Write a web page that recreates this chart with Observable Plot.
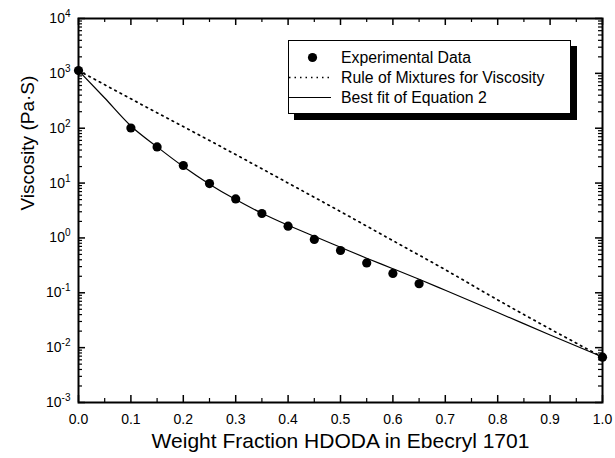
<!DOCTYPE html>
<html><head><meta charset="utf-8">
<script src="https://cdn.jsdelivr.net/npm/d3@7"></script>
<script src="https://cdn.jsdelivr.net/npm/@observablehq/plot@0.6"></script>
<style>
body{margin:0;background:#fff;font-family:"Liberation Sans",Arial,sans-serif;}
#wrap{position:relative;width:615px;height:458px;}
#legend{position:absolute;left:288px;top:40px;width:281px;height:72px;border:1px solid #000;background:#fff;box-shadow:6px 6px 0 #000;color:#000;}
#legend svg{position:absolute;left:0;top:0;}
</style></head><body>
<div id="wrap"><div id="chart"></div><div id="legend"></div></div>
<script>
// Experimental data
const expW   = [0, 0.10, 0.15, 0.20, 0.25, 0.30, 0.35, 0.40, 0.45, 0.50, 0.55, 0.60, 0.65, 1.00];
const expEta = [1125, 101, 45.6, 20.9, 9.8, 5.15, 2.79, 1.64, 0.94, 0.59, 0.35, 0.225, 0.146, 0.0067];
// Rule of mixtures (dotted)
const romW   = [0, 0.1, 0.2, 0.3, 0.4, 0.5, 0.6, 0.7, 0.8, 0.9, 1.0];
const romEta = [1125, 343, 107, 33.1, 10.0, 3.02, 0.891, 0.263, 0.0741, 0.0219, 0.0067];
// Best fit of Equation 2 (solid)
const fitW   = [0, 0.05, 0.1, 0.15, 0.2, 0.25, 0.3, 0.35, 0.4, 0.45, 0.5, 0.55, 0.6, 0.65, 0.7, 0.8, 0.9, 1.0];
const fitEta = [1125, 355, 110, 45.7, 20, 9.55, 5.0, 2.82, 1.70, 1.07, 0.676, 0.427, 0.275, 0.176, 0.111, 0.0437, 0.0170, 0.00676];
// Axis ticks
const xMajor = [0, 0.1, 0.2, 0.3, 0.4, 0.5, 0.6, 0.7, 0.8, 0.9, 1.0];
const xMinor = [0.05, 0.15, 0.25, 0.35, 0.45, 0.55, 0.65, 0.75, 0.85, 0.95];
const yMajor = [1e-3, 1e-2, 1e-1, 1e0, 1e1, 1e2, 1e3, 1e4];
const yMinor = [];
for (let k = -3; k < 4; k++) for (let m = 2; m <= 9; m++) yMinor.push(m * Math.pow(10, k));
// Legend
const legendLabels = ["Experimental Data", "Rule of Mixtures for Viscosity", "Best fit of Equation 2"];

const expData = expW.map((w, i) => ({w, eta: expEta[i]}));
const romData = romW.map((w, i) => ({w, eta: romEta[i]}));
const fitData = fitW.map((w, i) => ({w, eta: fitEta[i]}));

const W = 615, H = 458;
const mL = 78, mR = 13, mT = 18, mB = 56;
const fw = W - mL - mR, fh = H - mT - mB;

const svg = Plot.plot({
  width: W, height: H,
  marginLeft: mL, marginRight: mR, marginTop: mT, marginBottom: mB,
  style: {fontFamily: '"Liberation Sans", Arial, sans-serif', color: "#000", background: "#fff"},
  x: {domain: [0, 1], axis: null},
  y: {type: "log", domain: [1e-3, 1e4], axis: null},
  marks: [
    // ticks (inward, all four sides)
    Plot.tickX(xMajor, {x: d => d, insetTop: fh - 7, strokeWidth: 1.5}),
    Plot.tickX(xMajor, {x: d => d, insetBottom: fh - 7, strokeWidth: 1.5}),
    Plot.tickX(xMinor, {x: d => d, insetTop: fh - 4, strokeWidth: 1.2}),
    Plot.tickX(xMinor, {x: d => d, insetBottom: fh - 4, strokeWidth: 1.2}),
    Plot.tickY(yMajor, {y: d => d, insetRight: fw - 7, strokeWidth: 1.5}),
    Plot.tickY(yMajor, {y: d => d, insetLeft: fw - 7, strokeWidth: 1.5}),
    Plot.tickY(yMinor, {y: d => d, insetRight: fw - 4, strokeWidth: 1.2}),
    Plot.tickY(yMinor, {y: d => d, insetLeft: fw - 4, strokeWidth: 1.2}),
    // tick labels
    Plot.axisX(xMajor, {tickSize: 0, tickPadding: 12, tickFormat: d3.format(".1f"), fontSize: 14, label: null}),
    Plot.axisY(yMajor, {tickSize: 0, tickPadding: 8, tickFormat: d => "10^" + Math.round(Math.log10(d)), fontSize: 14, label: null}),
    // axis titles
    Plot.text(["Weight Fraction HDODA in Ebecryl 1701"], {text: d => d, frameAnchor: "bottom", lineAnchor: "middle", dy: 38.5, fontSize: 21}),
    Plot.text(["Viscosity (Pa\u00b7S)"], {text: d => d, frameAnchor: "left", lineAnchor: "middle", rotate: -90, dx: -51, fontSize: 19}),
    // data
    Plot.line(romData, {x: "w", y: "eta", curve: "monotone-x", stroke: "#000", strokeWidth: 1.7, strokeDasharray: "1.6,4.3"}),
    Plot.line(fitData, {x: "w", y: "eta", curve: "monotone-x", stroke: "#000", strokeWidth: 1.2}),
    Plot.dot(expData, {x: "w", y: "eta", r: 4.6, fill: "#000", stroke: "none", clip: false}),
    Plot.frame({stroke: "#000", strokeWidth: 2})
  ]
});

// superscript exponents on y tick labels
svg.querySelectorAll('g[aria-label="y-axis tick label"] text').forEach(t => {
  const s = t.textContent;
  const m = s.match(/^10\^(-?\d+)$/);
  if (!m) return;
  while (t.firstChild) t.removeChild(t.firstChild);
  const ns = "http://www.w3.org/2000/svg";
  const a = document.createElementNS(ns, "tspan");
  a.textContent = "10";
  const b = document.createElementNS(ns, "tspan");
  b.textContent = m[1];
  b.setAttribute("dy", "-6");
  b.setAttribute("font-size", "10");
  t.appendChild(a); t.appendChild(b);
});
document.getElementById("chart").appendChild(svg);

// legend
const leg = document.getElementById("legend");
const ns = "http://www.w3.org/2000/svg";
const ls = document.createElementNS(ns, "svg");
ls.setAttribute("width", 281); ls.setAttribute("height", 72);
const rowsY = [16.5, 36.5, 56.5];
legendLabels.forEach((lab, i) => {
  const y = rowsY[i];
  if (i === 0) {
    const c = document.createElementNS(ns, "circle");
    c.setAttribute("cx", 23.5); c.setAttribute("cy", y); c.setAttribute("r", 4.6); c.setAttribute("fill", "#000");
    ls.appendChild(c);
  } else {
    const l = document.createElementNS(ns, "line");
    l.setAttribute("x1", 0); l.setAttribute("x2", 42); l.setAttribute("y1", y); l.setAttribute("y2", y);
    l.setAttribute("stroke", "#000");
    if (i === 1) { l.setAttribute("stroke-width", 1.5); l.setAttribute("stroke-dasharray", "1.5,4"); }
    else l.setAttribute("stroke-width", 1);
    ls.appendChild(l);
  }
  const tx = document.createElementNS(ns, "text");
  tx.setAttribute("x", 52); tx.setAttribute("y", y); tx.setAttribute("dy", "0.36em");
  tx.setAttribute("font-size", "15.8"); tx.setAttribute("font-family", '"Liberation Sans", Arial, sans-serif');
  tx.textContent = lab;
  ls.appendChild(tx);
});
leg.appendChild(ls);
</script>
</body></html>
